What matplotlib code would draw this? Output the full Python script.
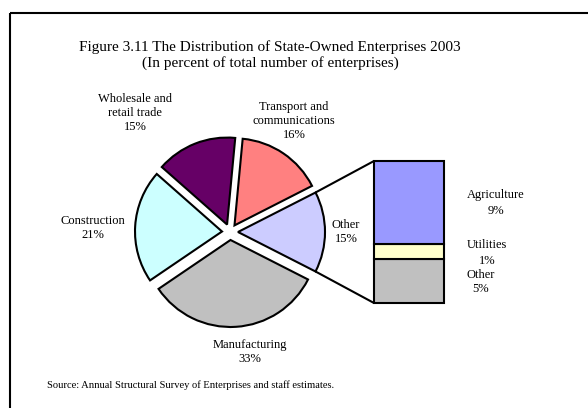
import numpy as np
import matplotlib
matplotlib.use("Agg")
import matplotlib.pyplot as plt
from matplotlib.patches import Rectangle

plt.rcParams['font.family'] = ['Liberation Serif', 'DejaVu Serif']

# ---- data ----
pie_labels = ["Other\n15%", "Transport and\ncommunications\n16%", "Wholesale and\nretail trade\n15%",
              "Construction\n21%", "Manufacturing\n33%"]
pie_values = [15, 16, 15, 21, 33]
pie_colors = ["#CCCCFF", "#FF8080", "#660066", "#CCFFFF", "#C0C0C0"]

bar_labels = ["Other\n5%", "Utilities\n1%", "Agriculture\n9%"]   # bottom to top
bar_values = [4.7, 1.5, 8.8]
bar_colors = ["#C0C0C0", "#FFFFCC", "#9999FF"]

title = "Figure 3.11 The Distribution of State-Owned Enterprises 2003\n(In percent of total number of enterprises)"
source = "Source: Annual Structural Survey of Enterprises and staff estimates."

W, H = 588, 408
fig = plt.figure(figsize=(W / 100, H / 100), dpi=100)
ax = fig.add_axes([0, 0, 1, 1])

# pie (y axis inverted -> counterclock=False gives screen counter-clockwise)
cx, cy, R, EXP = 230, 232, 87, 8
LW = 1.5
start = pie_values[0] / 100 * 360 / 2
wedges, _ = ax.pie(pie_values, colors=pie_colors, startangle=start, counterclock=False,
                   radius=R, center=(cx, cy), explode=[EXP] * len(pie_values),
                   wedgeprops=dict(edgecolor="black", linewidth=LW), frame=True)
ax.set_xlim(0, W)
ax.set_ylim(H, 0)
ax.set_aspect('equal', adjustable='box')
ax.axis('off')

# pie labels
pie_label_pos = [(346, 232), (294, 121), (135, 113), (93, 228), (250, 352)]
for lab, (x, y) in zip(pie_labels, pie_label_pos):
    ax.text(x, y, lab, ha='center', va='center', fontsize=9, linespacing=1.2)

# bar of pie
bx0, by_top, bw, bh = 374, 161, 70, 142
bax = fig.add_axes([bx0 / W, (H - by_top - bh) / H, bw / W, bh / H])
bottom = 0
for v, c in zip(bar_values, bar_colors):
    bars = bax.bar(0, v, width=1, bottom=bottom, color=c, edgecolor="black", linewidth=LW)
    for b in bars:
        b.set_clip_on(False)
    bottom += v
bax.set_xlim(-0.5, 0.5)
bax.set_ylim(0, sum(bar_values))
bax.axis('off')

bar_label_pos = [(481, 282), (487, 253), (496, 203)]
bar_linesp = [1.2, 1.45, 1.45]
for lab, (x, y), ls in zip(bar_labels, bar_label_pos, bar_linesp):
    ax.text(x, y, lab, ha='center', va='center', fontsize=9, linespacing=ls)

# connector lines from the "Other" wedge to the bar
w0 = wedges[0]
wc = w0.center
for ang, (tx, ty) in [(w0.theta1, (bx0, by_top)), (w0.theta2, (bx0, by_top + bh))]:
    a = np.deg2rad(ang)
    px, py = wc[0] + w0.r * np.cos(a), wc[1] + w0.r * np.sin(a)
    ax.plot([px, tx], [py, ty], color="black", linewidth=LW, solid_capstyle='butt')

# title and source
ax.text(270, 55, title, ha='center', va='center', fontsize=11, linespacing=1.2)
ax.text(47, 385, source, ha='left', va='center', fontsize=7.6)

# frame
ax.add_patch(Rectangle((10, 12.7), 700, 500, fill=False, edgecolor="black",
                       linewidth=1.5, clip_on=False))

fig.savefig("out.png", dpi=100)
